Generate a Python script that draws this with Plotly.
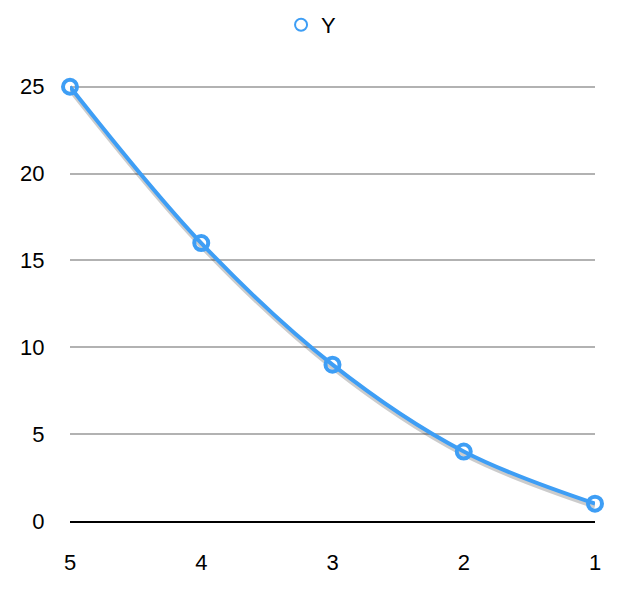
import plotly.graph_objects as go

categories = ["5", "4", "3", "2", "1"]
y_values = [25, 16, 9, 4, 1]
y_ticks = [0, 5, 10, 15, 20, 25]

blue = "rgb(62,158,245)"

fig = go.Figure()
# soft shadow under the line
fig.add_trace(go.Scatter(
    x=categories, y=[v - 0.15 for v in y_values], mode="lines",
    line=dict(color="rgba(0,0,0,0.2)", width=5, shape="spline", smoothing=1),
    showlegend=False, hoverinfo="skip", cliponaxis=False,
))
fig.add_trace(go.Scatter(
    x=categories, y=y_values, mode="lines",
    line=dict(color=blue, width=4, shape="spline", smoothing=1),
    showlegend=False, cliponaxis=False,
))
fig.add_trace(go.Scatter(
    x=categories, y=y_values, mode="markers", name="Y",
    marker=dict(symbol="circle", size=14, color="rgba(0,0,0,0)",
                line=dict(color=blue, width=4)),
    cliponaxis=False,
))

fig.update_layout(
    width=634, height=598,
    margin=dict(l=60, r=47, t=77, b=85),
    paper_bgcolor="white", plot_bgcolor="white",
    font=dict(family="Liberation Sans, Arial, sans-serif", size=22, color="black"),
    showlegend=True,
    legend=dict(orientation="h", xref="container", x=0.478, xanchor="center",
                yref="container", y=0.9716, yanchor="middle", font=dict(size=22),
                itemsizing="constant", bgcolor="rgba(0,0,0,0)"),
    xaxis=dict(type="category", range=[0, 4], showgrid=False,
               showline=True, linecolor="black", linewidth=2,
               ticks="outside", ticklen=21, tickcolor="rgba(0,0,0,0)",
               zeroline=False, fixedrange=True),
    yaxis=dict(range=[0, 25.1], tickvals=y_ticks, showgrid=True,
               gridcolor="rgb(178,178,178)", gridwidth=1.5,
               showline=False, zeroline=False,
               ticks="outside", ticklen=20, tickcolor="rgba(0,0,0,0)",
               fixedrange=True),
)

fig.write_html("out.html")
